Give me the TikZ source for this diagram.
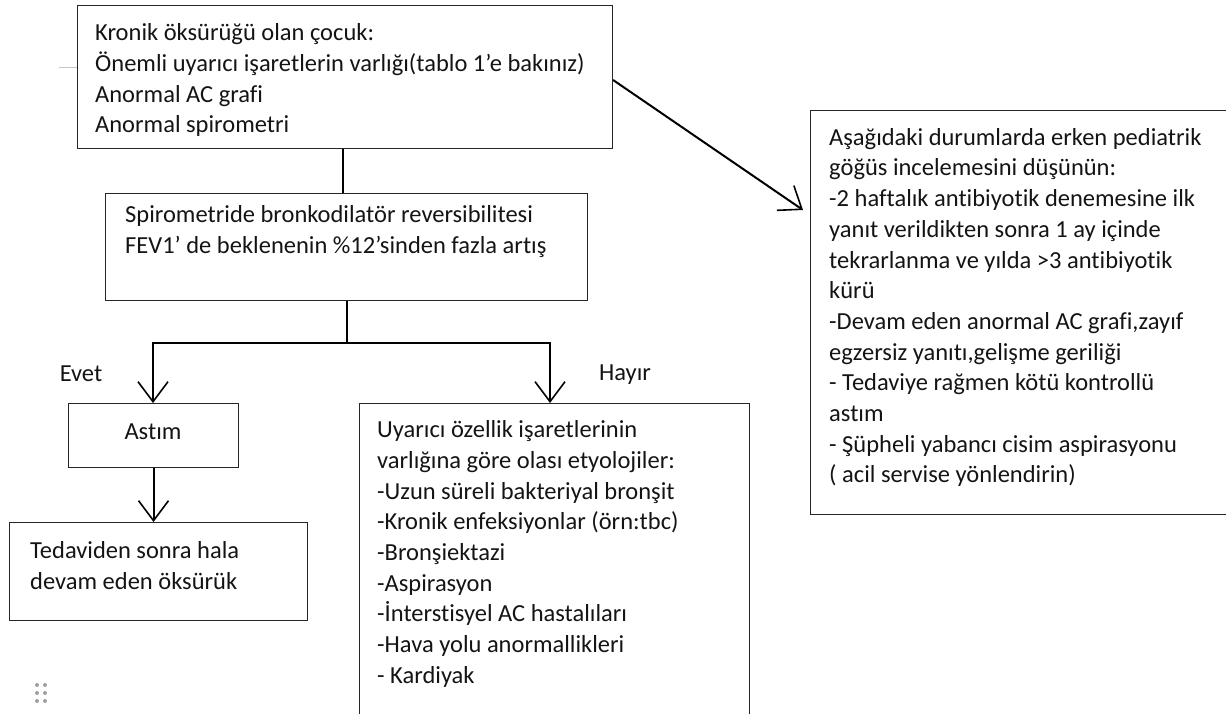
\documentclass[tikz,border=0pt]{standalone}
\usepackage{fontspec}
\setmainfont[Ligatures=CommonOff]{Carlito}
\usetikzlibrary{arrows.meta}
\begin{document}
\begin{tikzpicture}[x=1pt,y=-1pt,
  box/.style={draw=black!85, line width=1.1pt, anchor=north west, inner sep=0pt},
  txt/.style={anchor=north west, inner sep=0pt, align=left, font=\fontsize{24.5}{30.7}\selectfont, text=black!92},
  lbl/.style={inner sep=0pt, font=\fontsize{24.5}{30.7}\selectfont, text=black!92},
  conn/.style={line width=2pt, draw=black},
  arr/.style={conn, -{Straight Barb[length=20pt,width=30pt,line width=1.6pt]}}]
\useasboundingbox (0,0) rectangle (1226,713);

% boxes
\node[box, minimum width=535pt, minimum height=143pt] (top) at (77,5) {};
\node[box, minimum width=482pt, minimum height=107pt] (spiro) at (105,193) {};
\node[box, minimum width=170pt, minimum height=64pt] (astim) at (68,403) {};
\node[box, minimum width=298pt, minimum height=98pt] (ted) at (9,522) {};
\node[box, minimum width=390pt, minimum height=320pt] (etio) at (359,403) {};
\node[box, minimum width=420pt, minimum height=404pt] (right) at (810,110) {};

% texts
\node[txt] (toptext) at (95,19) {\strut Kronik öksürüğü olan çocuk:\\Önemli uyarıcı işaretlerin varlığı(tablo 1’e bakınız)\\Anormal AC grafi\\Anormal spirometri};
\node[txt] (spirotext) at (125,201) {\strut Spirometride bronkodilatör reversibilitesi\\FEV1’ de beklenenin \%12’sinden fazla artış};
\node[lbl] (astimtext) at (153,432) {Astım};
\node[txt] (tedtext) at (30,537) {\strut Tedaviden sonra hala\\devam eden öksürük};
\node[txt] (etiotext) at (377,416) {\strut Uyarıcı özellik işaretlerinin\\varlığına göre olası etyolojiler:\\-Uzun süreli bakteriyal bronşit\\-Kronik enfeksiyonlar (örn:tbc)\\-Bronşiektazi\\-Aspirasyon\\-İnterstisyel AC hastalıları\\-Hava yolu anormallikleri\\- Kardiyak};
\node[txt, font=\fontsize{24.5}{30.7}\selectfont] (righttext) at (829,123.5) {\strut Aşağıdaki durumlarda erken pediatrik\\göğüs incelemesini düşünün:\\-2 haftalık antibiyotik denemesine ilk\\yanıt verildikten sonra 1 ay içinde\\tekrarlanma ve yılda >3 antibiyotik\\kürü\\-Devam eden anormal AC grafi,zayıf\\egzersiz yanıtı,gelişme geriliği\\- Tedaviye rağmen kötü kontrollü\\astım\\- Şüpheli yabancı cisim aspirasyonu\\( acil servise yönlendirin)};

\node[lbl] (evet) at (81,374) {Evet};
\node[lbl] (hayir) at (625,375) {Hayır};

% connectors
\coordinate (c1) at (343,148);
\coordinate (bL) at (153,343);
\coordinate (bR) at (550,343);
\coordinate (d1) at (612,80);
\coordinate (d2) at (803,210);

\draw[conn] (c1 |- top.south) -- (c1 |- spiro.north);
\draw[conn] (spiro.south) -- (spiro.south |- bL);
\draw[conn, line cap=rect] (bL) -- (bR);
\draw[arr] (bL) -- (bL |- astim.north);
\draw[arr] (bR) -- (bR |- etio.north);
\draw[arr] (astim.south) -- (astim.south |- ted.north);
\draw[arr] (top.east |- d1) -- (d2);

% faint marks
\draw[gray!45, line width=0.8pt] (59,67) -- (top.west |- 0,67);
\foreach \xx in {37,45} \foreach \yy in {685,693,701}
  \fill[gray!75] (\xx,\yy) circle (2pt);
\end{tikzpicture}
\end{document}
